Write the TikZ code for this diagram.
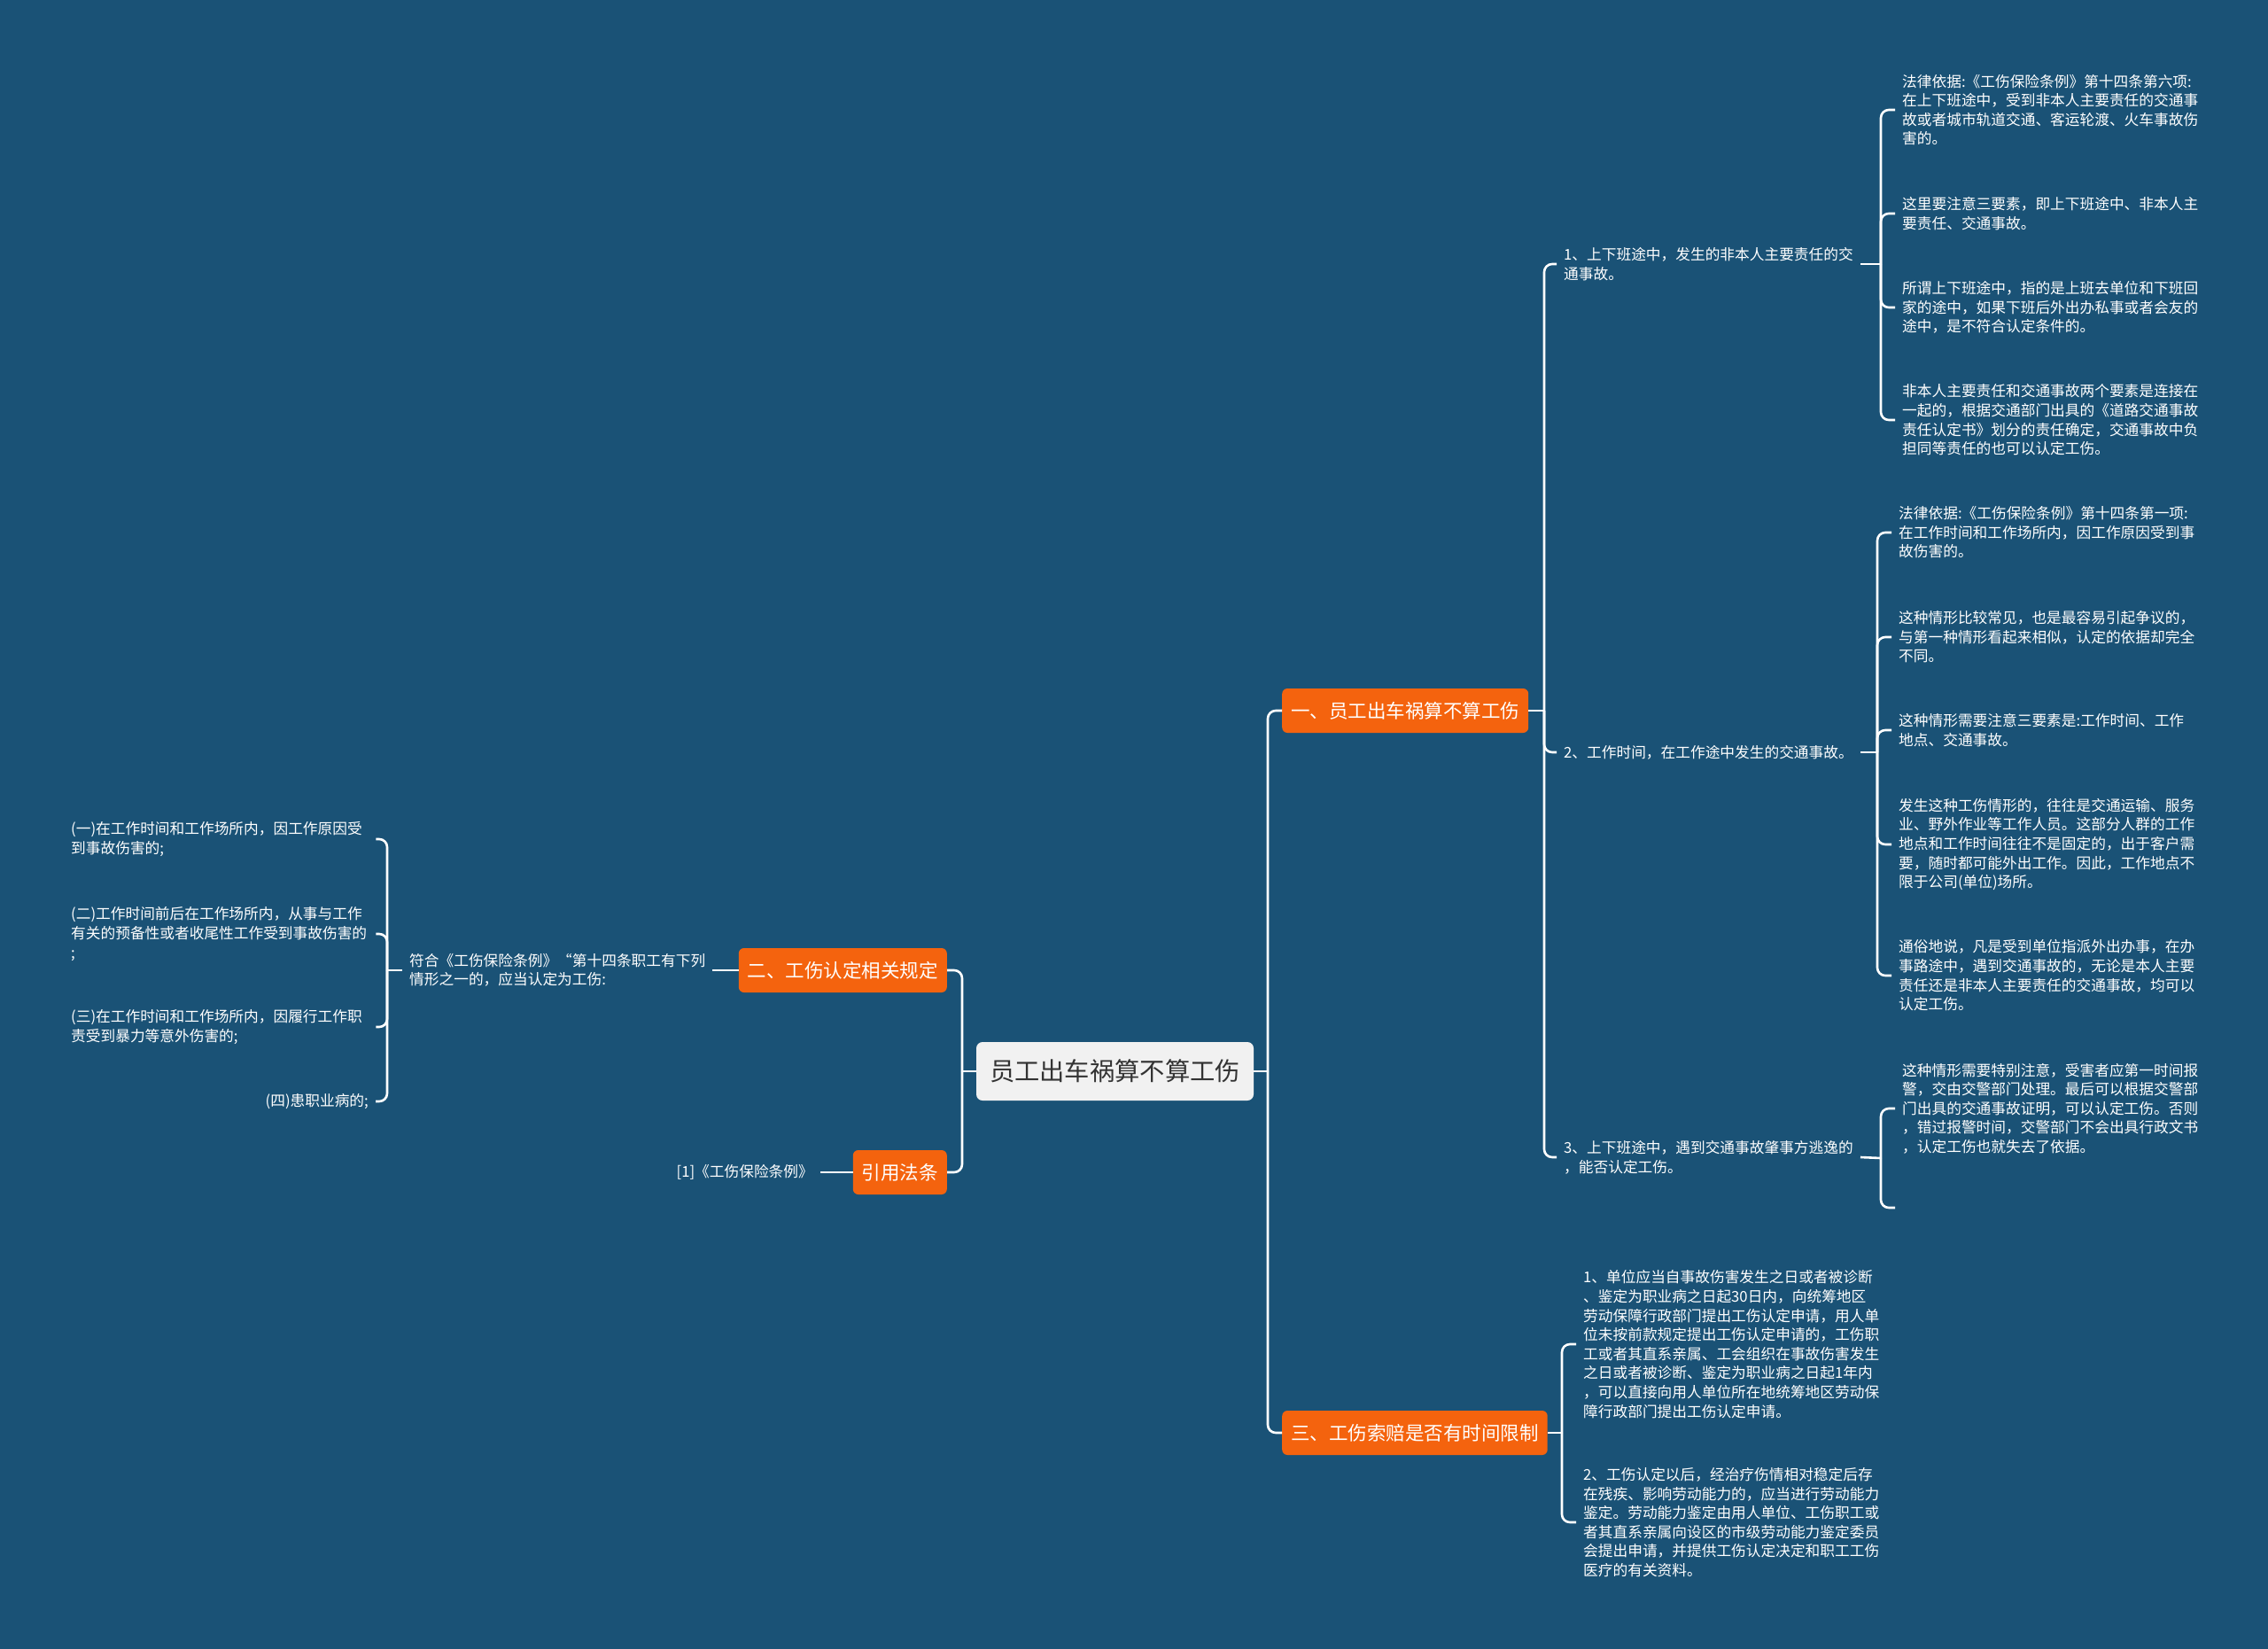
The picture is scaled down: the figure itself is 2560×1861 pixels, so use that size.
\documentclass[tikz,border=0pt]{standalone}
\usepackage{fontspec}
\setmainfont{Noto Sans CJK SC}
\definecolor{bg}{RGB}{26,82,118}
\definecolor{org}{RGB}{244,99,14}
\definecolor{rootfill}{RGB}{241,241,241}
\definecolor{roottext}{RGB}{51,51,51}
\begin{document}
\begin{tikzpicture}[x=1pt,y=-1pt,
  conn/.style={draw=white,line width=2.6pt,rounded corners=9pt},
  leaf/.style={text=white,font=\fontsize{16.7}{21.6}\selectfont,align=left,inner xsep=8pt,inner ysep=2pt},
  leafw/.style={leaf,text width=336pt},
  branchbox/.style={fill=org,text=white,rounded corners=6pt,font=\fontsize{21.5}{26}\selectfont,inner xsep=10pt,inner ysep=0pt,minimum height=50pt},
  rootbox/.style={fill=rootfill,text=roottext,rounded corners=7pt,font=\fontsize{28.3}{34}\selectfont,inner xsep=15pt,inner ysep=0pt,minimum height=66pt}]
\fill[bg] (0,0) rectangle (2560,1861);
\useasboundingbox (0,0) rectangle (2560,1861);

% main nodes
\node[rootbox] (root) at (1258.5,1209) {员工出车祸算不算工伤};
\node[branchbox,anchor=west] (b1) at (1447,802) {一、员工出车祸算不算工伤};
\node[branchbox,anchor=west] (b3) at (1447,1617) {三、工伤索赔是否有时间限制};
\node[branchbox,anchor=east] (b2) at (1069,1095) {二、工伤认定相关规定};
\node[branchbox,anchor=east] (b4) at (1069,1323) {引用法条};

% junctions
\coordinate (jR) at (1431,1209);
\coordinate (jL) at (1086,1209);
\coordinate (j1) at (1743,802);
\coordinate (j3) at (1763,1617);
\coordinate (j11) at (2123,298);
\coordinate (j12) at (2119,849);
\coordinate (j13) at (2123,1307);
\coordinate (j2) at (437,1095);

% level 2 right
\node[leaf,anchor=west] (n11) at (1757,298) {1、上下班途中，发生的非本人主要责任的交\\通事故。};
\node[leaf,anchor=west] (n12) at (1757,849) {2、工作时间，在工作途中发生的交通事故。};
\node[leaf,anchor=west] (n13) at (1757,1306) {3、上下班途中，遇到交通事故肇事方逃逸的\\，能否认定工伤。};

% leaves of 1
\node[leaf,anchor=west] (L1a) at (2139,124) {法律依据:《工伤保险条例》第十四条第六项:\\在上下班途中，受到非本人主要责任的交通事\\故或者城市轨道交通、客运轮渡、火车事故伤\\害的。};
\node[leaf,anchor=west] (L1b) at (2139,241) {这里要注意三要素，即上下班途中、非本人主\\要责任、交通事故。};
\node[leaf,anchor=west] (L1c) at (2139,347) {所谓上下班途中，指的是上班去单位和下班回\\家的途中，如果下班后外出办私事或者会友的\\途中，是不符合认定条件的。};
\node[leaf,anchor=west] (L1d) at (2139,474) {非本人主要责任和交通事故两个要素是连接在\\一起的，根据交通部门出具的《道路交通事故\\责任认定书》划分的责任确定，交通事故中负\\担同等责任的也可以认定工伤。};

% leaves of 2
\node[leaf,anchor=west] (L2a) at (2135,601) {法律依据:《工伤保险条例》第十四条第一项:\\在工作时间和工作场所内，因工作原因受到事\\故伤害的。};
\node[leaf,anchor=west] (L2b) at (2135,719) {这种情形比较常见，也是最容易引起争议的，\\与第一种情形看起来相似，认定的依据却完全\\不同。};
\node[leaf,anchor=west] (L2c) at (2135,824) {这种情形需要注意三要素是:工作时间、工作\\地点、交通事故。};
\node[leaf,anchor=west] (L2d) at (2135,953) {发生这种工伤情形的，往往是交通运输、服务\\业、野外作业等工作人员。这部分人群的工作\\地点和工作时间往往不是固定的，出于客户需\\要，随时都可能外出工作。因此，工作地点不\\限于公司(单位)场所。};
\node[leaf,anchor=west] (L2e) at (2135,1101) {通俗地说，凡是受到单位指派外出办事，在办\\事路途中，遇到交通事故的，无论是本人主要\\责任还是非本人主要责任的交通事故，均可以\\认定工伤。};

% leaves of 3
\node[leaf,anchor=west] (L3) at (2139,1251) {这种情形需要特别注意，受害者应第一时间报\\警，交由交警部门处理。最后可以根据交警部\\门出具的交通事故证明，可以认定工伤。否则\\，错过报警时间，交警部门不会出具行政文书\\，认定工伤也就失去了依据。};
\coordinate (L3e) at (2139,1363);

% leaves of branch 3
\node[leaf,anchor=west] (B3a) at (1779,1517) {1、单位应当自事故伤害发生之日或者被诊断\\、鉴定为职业病之日起30日内，向统筹地区\\劳动保障行政部门提出工伤认定申请，用人单\\位未按前款规定提出工伤认定申请的，工伤职\\工或者其直系亲属、工会组织在事故伤害发生\\之日或者被诊断、鉴定为职业病之日起1年内\\，可以直接向用人单位所在地统筹地区劳动保\\障行政部门提出工伤认定申请。};
\node[leaf,anchor=west] (B3b) at (1779,1718) {2、工伤认定以后，经治疗伤情相对稳定后存\\在残疾、影响劳动能力的，应当进行劳动能力\\鉴定。劳动能力鉴定由用人单位、工伤职工或\\者其直系亲属向设区的市级劳动能力鉴定委员\\会提出申请，并提供工伤认定决定和职工工伤\\医疗的有关资料。};

% left side
\node[leaf,anchor=west] (fu) at (454,1095) {符合《工伤保险条例》“第十四条职工有下列\\情形之一的，应当认定为工伤:};
\node[leafw,anchor=west] (Lf1) at (72,947) {(一)在工作时间和工作场所内，因工作原因受\\到事故伤害的;};
\node[leafw,anchor=west] (Lf2) at (72,1054) {(二)工作时间前后在工作场所内，从事与工作\\有关的预备性或者收尾性工作受到事故伤害的\\;};
\node[leafw,anchor=west] (Lf3) at (72,1159) {(三)在工作时间和工作场所内，因履行工作职\\责受到暴力等意外伤害的;};
\node[leaf,anchor=east] (Lf4) at (424,1243) {(四)患职业病的;};
\node[leaf,anchor=east] (ref1) at (926,1323) {[1]《工伤保险条例》};

% connectors: root
\draw[conn] (root.east) -- (jR);
\draw[conn] (jR) |- (b1.west);
\draw[conn] (jR) |- (b3.west);
\draw[conn] (root.west) -- (jL);
\draw[conn] (jL) |- (b2.east);
\draw[conn] (jL) |- (b4.east);

% branch 1
\draw[conn] (b1.east) -- (j1);
\draw[conn] (j1) |- (n11.west);
\draw[conn] (j1) |- (n12.west);
\draw[conn] (j1) |- (n13.west);

\draw[conn] (n11.east) -- (j11);
\foreach \n in {L1a,L1b,L1c,L1d} \draw[conn] (j11) |- (\n.west);
\draw[conn] (n12.east) -- (j12);
\foreach \n in {L2a,L2b,L2c,L2d,L2e} \draw[conn] (j12) |- (\n.west);
\draw[conn] (n13.east) -- (j13);
\draw[conn] (j13) |- (L3.west);
\draw[conn] (j13) |- (L3e);

% branch 3
\draw[conn] (b3.east) -- (j3);
\draw[conn] (j3) |- (B3a.west);
\draw[conn] (j3) |- (B3b.west);

% left branches
\draw[conn] (b2.west) -- (fu.east);
\draw[conn] (fu.west) -- (j2);
\foreach \n in {Lf1,Lf2,Lf3,Lf4} \draw[conn] (j2) |- (\n.east);
\draw[conn] (b4.west) -- (ref1.east);
\end{tikzpicture}
\end{document}
